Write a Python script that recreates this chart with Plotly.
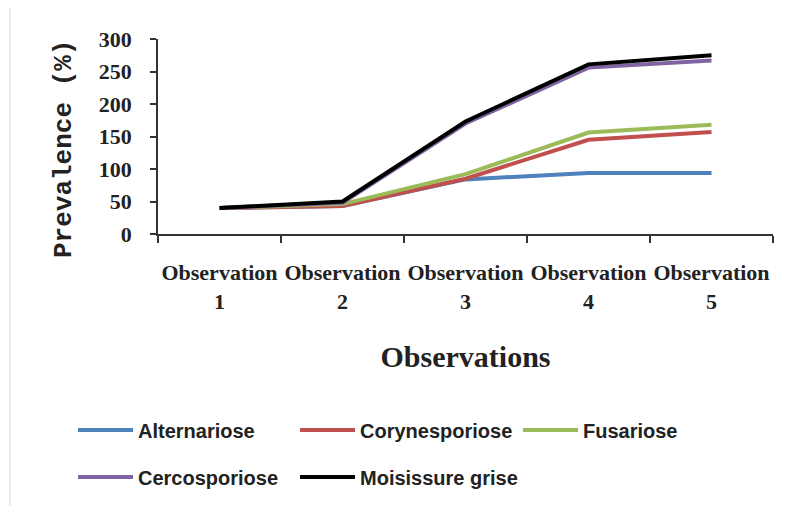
import plotly.graph_objects as go

categories = ["Observation<br>1", "Observation<br>2", "Observation<br>3", "Observation<br>4", "Observation<br>5"]
series_names = ["Alternariose", "Corynesporiose", "Fusariose", "Cercosporiose", "Moisissure grise"]
alternariose = [40, 43, 84, 94, 94]
corynesporiose = [40, 43, 85, 145, 157]
fusariose = [40, 46, 92, 156, 168]
cercosporiose = [40, 48, 170, 256, 267]
moisissure = [40, 50, 173, 261, 275]
colors = ["#4F81BD", "#C0504D", "#9BBB59", "#8064A2", "#000000"]
y_ticks = [0, 50, 100, 150, 200, 250, 300]

values = [alternariose, corynesporiose, fusariose, cercosporiose, moisissure]
legend_ids = ["legend", "legend2", "legend3", "legend4", "legend5"]
legend_pos = [(65, 422), (287, 422), (510, 422), (65, 469), (287, 469)]

fig = go.Figure()
for name, vals, col, lg in zip(series_names, values, colors, legend_ids):
    fig.add_trace(go.Scatter(x=categories, y=vals, mode="lines", name=name,
                             line=dict(color=col, width=4), legend=lg))

serif = "Liberation Serif"
legend_font = dict(family="Liberation Sans", size=20, color="#222", weight="bold")
layout_legends = {}
for lg, (px, py) in zip(legend_ids, legend_pos):
    layout_legends[lg] = dict(orientation="h", xref="container", yref="container",
                              x=px / 793, y=(506 - py) / 506, xanchor="left", yanchor="middle",
                              itemwidth=55, font=legend_font, bgcolor="rgba(0,0,0,0)")

n_cat = len(categories)
boundaries = [i - 0.5 for i in range(n_cat + 1)]

fig.update_layout(
    width=793, height=506,
    margin=dict(l=150, r=28, t=31, b=280, autoexpand=False),
    paper_bgcolor="white", plot_bgcolor="white",
    xaxis=dict(type="category", range=[-0.5, n_cat - 0.5], tickson="boundaries",
               ticks="outside", ticklen=7, tickcolor="#333", tickwidth=1.5,
               showline=True, linecolor="#333", linewidth=1.5, showgrid=False,
               tickangle=0, ticklabelstandoff=18,
               tickfont=dict(family=serif, size=22, color="#222", weight="bold"),
               title=dict(text="Observations", standoff=33,
                          font=dict(family=serif, size=30, color="#222", weight="bold"))),
    yaxis=dict(range=[0, 300], tickvals=y_ticks, ticks="outside", ticklen=6,
               tickcolor="#333", tickwidth=1.5, showline=True, linecolor="#333",
               linewidth=1.5, showgrid=False, zeroline=False, ticklabelstandoff=14,
               tickfont=dict(family=serif, size=22, color="#222", weight="bold")),
    xaxis2=dict(overlaying="x", anchor="y", side="bottom", range=[-0.5, n_cat - 0.5],
                tickvals=boundaries, ticks="inside", ticklen=6, tickcolor="#333",
                tickwidth=1.5, showticklabels=False, showline=False, showgrid=False,
                zeroline=False),
    yaxis2=dict(overlaying="y", anchor="x", side="left", range=[0, 300],
                tickvals=y_ticks, ticks="inside", ticklen=7, tickcolor="#333",
                tickwidth=1.5, showticklabels=False, showline=False, showgrid=False,
                zeroline=False),
    showlegend=True,
    **layout_legends,
)
fig.add_annotation(text="Prevalence (%)", textangle=-90, xref="paper", yref="paper",
                   x=(64 - 158) / 615, y=(234 - 149) / 195, showarrow=False,
                   xanchor="center", yanchor="middle",
                   font=dict(family="Liberation Mono", size=26, color="#222", weight="bold"))
fig.add_shape(type="line", xref="paper", yref="paper", x0=(10 - 158) / 615, x1=(10 - 158) / 615,
              y0=(234 - 0) / 195, y1=(234 - 506) / 195, line=dict(color="#d9d9d9", width=1))
fig.write_html("out.html")
